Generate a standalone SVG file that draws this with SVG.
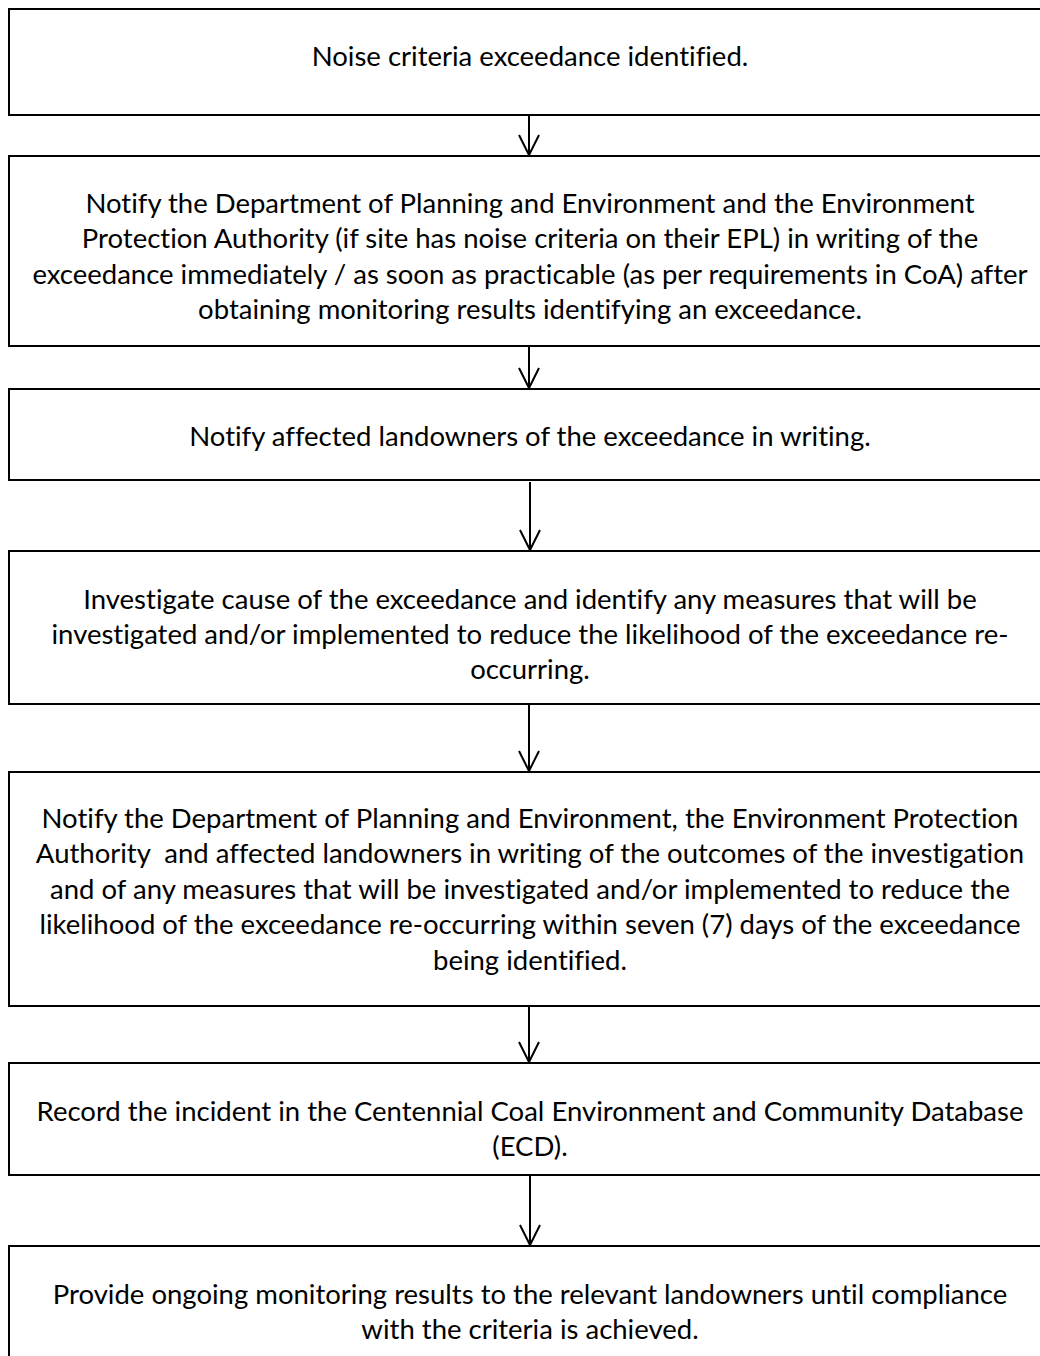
<svg xmlns="http://www.w3.org/2000/svg" width="1040" height="1356" viewBox="0 0 1040 1356">
<style>
.box{fill:#fff;stroke:#000;stroke-width:2}
.t{font-family:Lato,"Liberation Sans",sans-serif;font-size:27.5px;fill:#000;text-anchor:middle;white-space:pre;font-variant-ligatures:none;font-feature-settings:"liga" 0,"clig" 0}
.c{stroke:#000;stroke-width:2;fill:none}
</style>
<defs>
<marker id="ah" markerWidth="24" markerHeight="24" refX="20" refY="11" orient="auto" markerUnits="userSpaceOnUse" viewBox="-1 -1 24 24">
<path d="M0,1 L20,11 L0,21" fill="none" stroke="#000" stroke-width="2"/>
</marker>
</defs>
<rect width="1040" height="1356" fill="#fff"/>
<g id="n1"><rect class="box" x="9" y="9" width="1050" height="106"/>
<text class="t" x="530" y="65.5">Noise criteria exceedance identified.</text></g>
<g id="n2"><rect class="box" x="9" y="156" width="1050" height="190"/>
<text class="t" x="530" y="212.5">Notify the Department of Planning and Environment and the Environment</text>
<text class="t" x="530" y="248">Protection Authority (if site has noise criteria on their EPL) in writing of the</text>
<text class="t" x="530" y="283.5">exceedance immediately / as soon as practicable (as per requirements in CoA) after</text>
<text class="t" x="530" y="319">obtaining monitoring results identifying an exceedance.</text></g>
<g id="n3"><rect class="box" x="9" y="389" width="1050" height="91"/>
<text class="t" x="530" y="445.5">Notify affected landowners of the exceedance in writing.</text></g>
<g id="n4"><rect class="box" x="9" y="551" width="1050" height="153"/>
<text class="t" x="530" y="608.5">Investigate cause of the exceedance and identify any measures that will be</text>
<text class="t" x="530" y="643.5">investigated and/or implemented to reduce the likelihood of the exceedance re-</text>
<text class="t" x="530" y="679">occurring.</text></g>
<g id="n5"><rect class="box" x="9" y="772" width="1050" height="234"/>
<text class="t" x="530" y="827.5">Notify the Department of Planning and Environment, the Environment Protection</text>
<text class="t" x="530" y="863">Authority  and affected landowners in writing of the outcomes of the investigation</text>
<text class="t" x="530" y="898.5">and of any measures that will be investigated and/or implemented to reduce the</text>
<text class="t" x="530" y="934">likelihood of the exceedance re-occurring within seven (7) days of the exceedance</text>
<text class="t" x="530" y="969.5">being identified.</text></g>
<g id="n6"><rect class="box" x="9" y="1063" width="1050" height="112"/>
<text class="t" x="530" y="1120.5">Record the incident in the Centennial Coal Environment and Community Database</text>
<text class="t" x="530" y="1156">(ECD).</text></g>
<g id="n7"><rect class="box" x="9" y="1246" width="1050" height="200"/>
<text class="t" x="530" y="1303.5">Provide ongoing monitoring results to the relevant landowners until compliance</text>
<text class="t" x="530" y="1339">with the criteria is achieved.</text></g>
<g id="connectors">
<line class="c" x1="529" y1="115" x2="529" y2="155" marker-end="url(#ah)"/>
<line class="c" x1="529" y1="346" x2="529" y2="388" marker-end="url(#ah)"/>
<line class="c" x1="530" y1="482" x2="530" y2="550" marker-end="url(#ah)"/>
<line class="c" x1="529" y1="704" x2="529" y2="771" marker-end="url(#ah)"/>
<line class="c" x1="529" y1="1006" x2="529" y2="1062" marker-end="url(#ah)"/>
<line class="c" x1="530" y1="1175" x2="530" y2="1245" marker-end="url(#ah)"/>
</g>
</svg>
